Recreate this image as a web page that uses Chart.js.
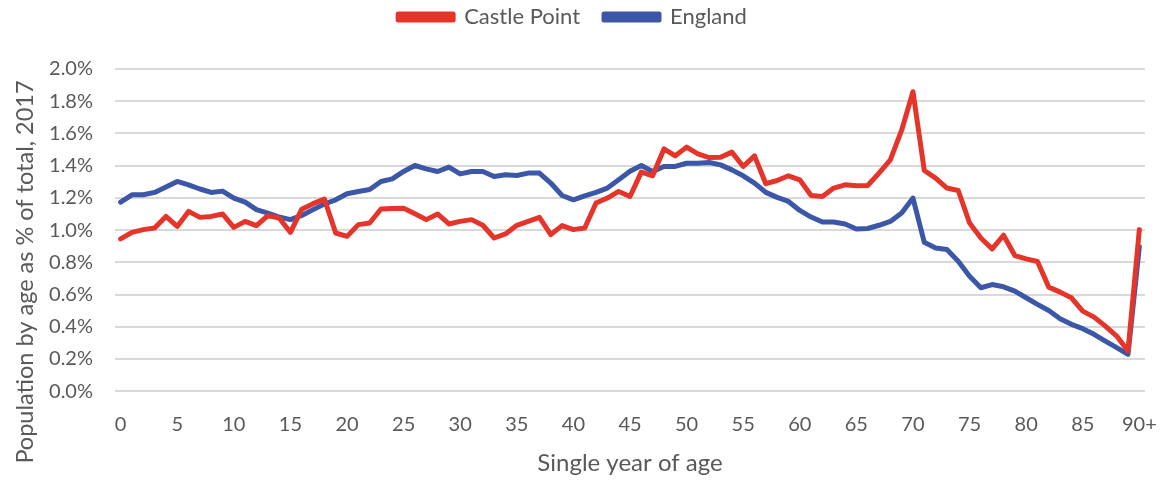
<!DOCTYPE html>
<html>
<head>
<meta charset="utf-8">
<script src="https://cdn.jsdelivr.net/npm/chart.js@4/dist/chart.umd.min.js"></script>
<style>
  html, body { margin: 0; padding: 0; background: #fff; }
  #wrap { width: 1162px; height: 480px; position: relative; }
</style>
</head>
<body>
<div id="wrap"><canvas id="popChart"></canvas></div>
<script>
// Ages 0..89 plus the open-ended 90+ band
const ages = [];
for (let a = 0; a < 90; a++) ages.push(String(a));
ages.push('90+');

// Share of total population at each single year of age (%), 2017
const castlePoint = [
  0.945, 0.986, 1.003, 1.013, 1.085, 1.023, 1.116, 1.079, 1.085, 1.100,
  1.017, 1.054, 1.028, 1.090, 1.075, 0.986, 1.130, 1.164, 1.193, 0.982,
  0.961, 1.034, 1.044, 1.131, 1.134, 1.135, 1.102, 1.065, 1.100, 1.038,
  1.054, 1.065, 1.030, 0.951, 0.976, 1.030, 1.054, 1.079, 0.972, 1.028,
  1.003, 1.013, 1.168, 1.199, 1.240, 1.209, 1.360, 1.337, 1.504, 1.461,
  1.515, 1.473, 1.450, 1.452, 1.484, 1.395, 1.461, 1.288, 1.308, 1.337,
  1.312, 1.215, 1.209, 1.261, 1.281, 1.275, 1.277, 1.354, 1.436, 1.620,
  1.859, 1.370, 1.323, 1.261, 1.246, 1.044, 0.951, 0.883, 0.968, 0.842,
  0.821, 0.805, 0.646, 0.615, 0.580, 0.497, 0.460, 0.404, 0.342, 0.250,
  1.003
];

const england = [
  1.174, 1.219, 1.219, 1.234, 1.267, 1.302, 1.281, 1.255, 1.234, 1.242,
  1.199, 1.174, 1.127, 1.106, 1.081, 1.065, 1.091, 1.127, 1.162, 1.188,
  1.226, 1.240, 1.252, 1.302, 1.318, 1.364, 1.401, 1.380, 1.364, 1.391,
  1.349, 1.364, 1.364, 1.333, 1.343, 1.339, 1.354, 1.354, 1.292, 1.215,
  1.188, 1.213, 1.234, 1.261, 1.312, 1.365, 1.401, 1.364, 1.395, 1.395,
  1.415, 1.415, 1.420, 1.405, 1.374, 1.337, 1.292, 1.234, 1.203, 1.178,
  1.122, 1.081, 1.050, 1.050, 1.038, 1.007, 1.010, 1.030, 1.054, 1.106,
  1.199, 0.924, 0.889, 0.879, 0.807, 0.714, 0.642, 0.662, 0.648, 0.621,
  0.580, 0.539, 0.501, 0.450, 0.415, 0.388, 0.353, 0.311, 0.270, 0.229,
  0.896
];

const seriesNames = ['Castle Point', 'England'];
const seriesColors = ['#e5352a', '#3c57a7'];
const yTitle = 'Population by age as % of total, 2017';
const xTitle = 'Single year of age';

const FONT = 'Lato, "Open Sans", sans-serif';
const TEXT = '#595959';

// legend sits high with a wide gap below it, so stretch its box after fitting
const legendGap = {
  id: 'legendGap',
  beforeInit(chart) {
    const fit = chart.legend.fit;
    chart.legend.fit = function () {
      fit.call(this);
      this.height = 87;
    };
  }
};

// rotated y-axis title, placed a little below the plot middle
const yAxisTitle = {
  id: 'yAxisTitle',
  afterDraw(chart) {
    const ctx = chart.ctx;
    ctx.save();
    ctx.translate(25, 272);
    ctx.rotate(-Math.PI / 2);
    ctx.fillStyle = TEXT;
    ctx.font = '23.5px ' + FONT;
    ctx.textAlign = 'center';
    ctx.textBaseline = 'middle';
    ctx.fillText(yTitle, 0, 0);
    ctx.restore();
  }
};

new Chart(document.getElementById('popChart'), {
  type: 'line',
  data: {
    labels: ages,
    datasets: [
      { label: seriesNames[0], data: castlePoint, borderColor: seriesColors[0], backgroundColor: seriesColors[0] },
      { label: seriesNames[1], data: england, borderColor: seriesColors[1], backgroundColor: seriesColors[1] }
    ]
  },
  plugins: [legendGap, yAxisTitle],
  options: {
    responsive: true,
    maintainAspectRatio: false,
    animation: false,
    layout: { padding: { left: 0, right: 17, top: -18, bottom: 2 } },
    elements: {
      line: { borderWidth: 5, tension: 0, borderJoinStyle: 'round', borderCapStyle: 'round' },
      point: { radius: 0, hoverRadius: 0 }
    },
    plugins: {
      tooltip: { enabled: false },
      legend: {
        position: 'top',
        labels: {
          color: TEXT,
          font: { family: FONT, size: 22 },
          boxWidth: 55,
          boxHeight: 6,
          padding: 24
        }
      }
    },
    scales: {
      x: {
        offset: true,
        grid: { display: false },
        border: { display: false },
        afterFit: (scale) => { scale.paddingRight = 0; scale.paddingLeft = 0; },
        ticks: {
          color: TEXT,
          font: { family: FONT, size: 20 },
          autoSkip: false,
          maxRotation: 0,
          padding: 13,
          callback: (v, i) => (i % 5 === 0 ? ages[i] : '')
        },
        title: {
          display: true,
          text: xTitle,
          color: TEXT,
          font: { family: FONT, size: 24 },
          padding: { top: 0, bottom: 0 }
        }
      },
      y: {
        min: 0,
        max: 2.0,
        grid: { color: '#d9d9d9', lineWidth: 2, drawTicks: false },
        border: { display: false },
        afterFit: (scale) => { scale.width = 115; },
        ticks: {
          stepSize: 0.2,
          color: TEXT,
          font: { family: FONT, size: 20 },
          padding: 22,
          callback: (v) => v.toFixed(1) + '%'
        }
      }
    }
  }
});
</script>
</body>
</html>
